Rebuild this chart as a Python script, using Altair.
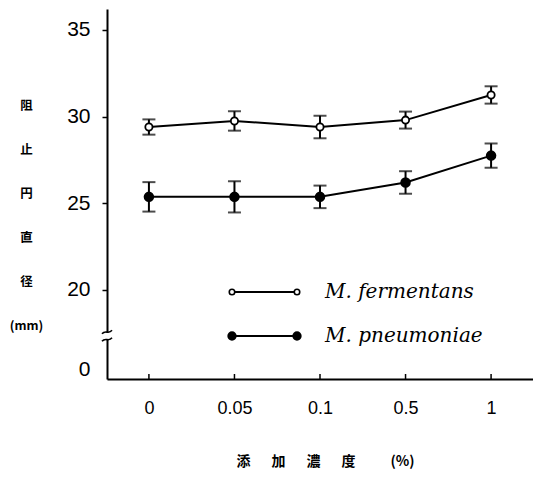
import altair as alt
import pandas as pd

# ---- data ----
concentrations = ["0", "0.05", "0.1", "0.5", "1"]
series_names = ["M. fermentans", "M. pneumoniae"]
fermentans_mean = [29.4, 29.75, 29.4, 29.8, 31.25]
fermentans_err = [0.44, 0.56, 0.65, 0.49, 0.5]
pneumoniae_mean = [25.37, 25.37, 25.37, 26.2, 27.75]
pneumoniae_err = [0.85, 0.9, 0.65, 0.65, 0.7]

# broken y axis: the bottom tick is labelled "0"
y_tick_values = [15.38, 20, 25, 30, 35]
y_domain = [14.86, 36.21]
axis_break_value = 17.35

y_title_lines = ["阻", "止", "円", "直", "径", "(mm)"]
x_title = "添\u3000\u2002加\u3000\u2002濃\u3000\u2002度\u3000\u3000\u2002(%)"

rows = []
for name, means, errs in [
    (series_names[0], fermentans_mean, fermentans_err),
    (series_names[1], pneumoniae_mean, pneumoniae_err),
]:
    for c, m, e in zip(concentrations, means, errs):
        rows.append({"conc": c, "series": name, "mean": m, "lo": m - e, "hi": m + e})
df = pd.DataFrame(rows)
conc_df = pd.DataFrame({"conc": concentrations})

W, H = 426, 370
FONT = "Liberation Sans"
CJK = "Noto Sans CJK JP"

x_enc = alt.X(
    "conc:O",
    sort=concentrations,
    scale=alt.Scale(type="point", padding=0.49),
    axis=alt.Axis(
        title=x_title,
        labelAngle=0,
        ticks=False,
        tickSize=0,
        labelFont=FONT,
        labelFontSize=18,
        labelColor="black",
        labelPadding=20,
        domainColor="black",
        domainWidth=2,
        grid=False,
        titleFont=CJK,
        titleFontSize=14,
        titleFontWeight="bold",
        titleColor="black",
        titleAlign="center",
        titleBaseline="middle",
        titleX=218,
        titleY=82,
    ),
)

y_scale = alt.Scale(domain=y_domain, nice=False, zero=False)
y_axis = alt.Axis(
    values=y_tick_values,
    labelExpr="datum.value < 18 ? '0' : datum.label",
    tickSize=5,
    tickWidth=1.5,
    tickColor="black",
    tickOpacity={"condition": {"test": "datum.value < 18", "value": 0}, "value": 1},
    domainColor="black",
    domainWidth=2,
    labelFont=FONT,
    labelFontSize=21,
    labelColor="black",
    labelPadding=12,
    grid=False,
    title=y_title_lines,
    titleAngle=0,
    titleX=-81,
    titleY=90,
    titleAlign="center",
    titleBaseline="top",
    titleLineHeight=44,
    titleFont=CJK,
    titleFontSize=12.5,
    titleFontWeight="bold",
    titleColor="black",
)

base = alt.Chart(df)

lines = base.mark_line(color="black", strokeWidth=2).encode(
    x=x_enc, y=alt.Y("mean:Q", scale=y_scale, axis=y_axis), detail="series:N"
)
err_rules = base.mark_rule(color="black", strokeWidth=2).encode(
    x="conc:O", y="lo:Q", y2="hi:Q"
)
cap_lo = base.mark_tick(color="black", thickness=2, size=13).encode(x="conc:O", y="lo:Q")
cap_hi = base.mark_tick(color="black", thickness=2, size=13).encode(x="conc:O", y="hi:Q")
points = base.mark_point(
    shape="circle", filled=True, stroke="black", strokeWidth=1.8, opacity=1
).encode(
    x="conc:O",
    y="mean:Q",
    fill=alt.Fill("series:N", scale=alt.Scale(domain=series_names, range=["white", "black"]), legend=None),
    size=alt.Size("series:N", scale=alt.Scale(domain=series_names, range=[52, 76]), legend=None),
)

# inward tick marks on the x axis
x_ticks = alt.Chart(conc_df).mark_rule(color="black", strokeWidth=1.5).encode(
    x="conc:O", y=alt.value(H - 5), y2=alt.value(H)
)

# axis break on the y axis
break_df = pd.DataFrame({"v": [axis_break_value]})
cover = alt.Chart(break_df).mark_rule(color="white", strokeWidth=6).encode(
    x=alt.value(0), y=alt.datum(axis_break_value + 0.2), y2=alt.datum(axis_break_value - 0.2)
)
squiggle = alt.Chart(break_df).mark_point(
    shape="M-1,-0.4 C-0.3,-1.3 0.3,-0.2 1,-1.1 M-1,1.1 C-0.3,0.2 0.3,1.3 1,0.4",
    filled=False, stroke="black", strokeWidth=1.6, size=100, opacity=1,
).encode(x=alt.value(0), y="v:Q")

# manual legend
legend_layers = []
for i, name in enumerate(series_names):
    ly = 283 + 44 * i
    ldf = pd.DataFrame({"series": [name]})
    lb = alt.Chart(ldf)
    legend_layers.append(
        lb.mark_rule(color="black", strokeWidth=2).encode(
            x=alt.value(125), x2=alt.value(190), y=alt.value(ly)
        )
    )
    for lx in (125, 190):
        legend_layers.append(
            lb.mark_point(
                shape="circle", filled=True, stroke="black", strokeWidth=1.6, opacity=1,
                size=30 if i == 0 else 60,
            ).encode(
                x=alt.value(lx), y=alt.value(ly),
                fill=alt.value("white" if i == 0 else "black"),
            )
        )
    legend_layers.append(
        lb.mark_text(
            align="left", baseline="middle", font="DejaVu Serif", fontStyle="italic",
            fontSize=20, color="black",
        ).encode(x=alt.value(218), y=alt.value(ly), text="series:N")
    )

chart = alt.layer(
    lines, err_rules, cap_lo, cap_hi, points, x_ticks, cover, squiggle, *legend_layers
).properties(
    width=W,
    height=H,
    autosize=alt.AutoSizeParams(type="none"),
    padding={"left": 99, "top": 1, "right": 0, "bottom": 90},
    background="white",
).configure_view(strokeWidth=0)

chart.save("out.html", embed_options={"renderer": "svg", "actions": False})
